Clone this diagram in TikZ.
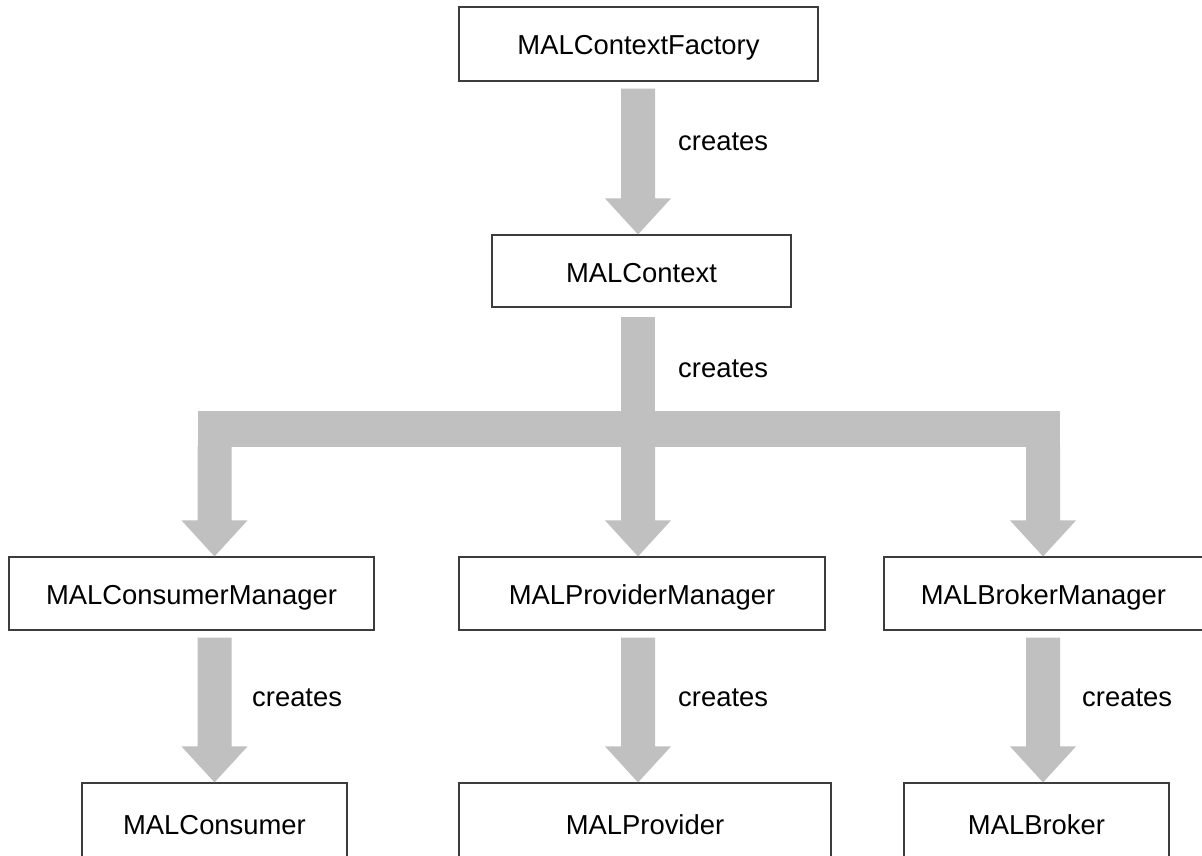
\documentclass[tikz,border=0pt]{standalone}
\usepackage{fontspec}
\setmainfont{Liberation Sans}
\usetikzlibrary{calc}
\definecolor{arrowgray}{RGB}{192,192,192}
\definecolor{boxline}{RGB}{60,60,60}
% block arrow: #1 = start of shaft (top), #2 = tip (bottom), same x
\newcommand\myblockarrow[2]{%
  \fill[arrowgray] ($(#1)+(-17,0)$) -- ($(#2)+(-17,36)$) -- ($(#2)+(-33,36)$) -- (#2)
    -- ($(#2)+(33,36)$) -- ($(#2)+(17,36)$) -- ($(#1)+(17,0)$) -- cycle;}
\begin{document}
\begin{tikzpicture}[x=1pt,y=1pt,
  box/.style={draw=boxline, line width=1.2pt, fill=white, inner sep=0pt,
    font=\fontsize{27.4}{32}\selectfont, text height=22pt, text depth=0pt},
  lbl/.style={anchor=west, inner sep=0pt,
    font=\fontsize{27.4}{32}\selectfont, text height=14.2pt, text depth=0pt}]
\clip (0,0) rectangle (1202,-856);
\fill[white] (0,0) rectangle (1202,-856);

% nodes
\node[box, minimum width=359pt, minimum height=74pt] (F) at (638.5,-44) {MALContextFactory};
\node[box, minimum width=299pt, minimum height=72pt] (C) at (641.5,-271) {MALContext};
\node[box, minimum width=365pt, minimum height=73pt] (CM) at (191.5,-593.5) {MALConsumerManager};
\node[box, minimum width=366pt, minimum height=73pt] (PM) at (642,-593.5) {MALProviderManager};
\node[box, minimum width=319pt, minimum height=73pt] (BM) at (1043.5,-593.5) {MALBrokerManager};
\node[box, minimum width=265pt, minimum height=80pt] (Cons) at (214.5,-823) {MALConsumer};
\node[box, minimum width=372pt, minimum height=80pt] (Prov) at (645,-823) {MALProvider};
\node[box, minimum width=265pt, minimum height=80pt] (Brok) at (1036.5,-823) {MALBroker};

% arrow axes
\coordinate (xm) at (638,0);
\coordinate (xl) at (214.5,0);
\coordinate (xr) at (1043,0);

% Factory -> Context
\coordinate (a1s) at ($(xm |- F.south)+(0,-7)$);
\coordinate (a1t) at (xm |- C.north);
\myblockarrow{a1s}{a1t}

% Context -> managers (branching)
\coordinate (stemtop) at ($(xm |- C.south)+(0,-9)$);
\coordinate (bartop) at (0,-411);
\coordinate (barbot) at (0,-447);
\fill[arrowgray] ($(stemtop)+(-17,0)$) rectangle ($(xm |- bartop)+(17,0)$);
\fill[arrowgray] ($(xl |- bartop)+(-17,0)$) rectangle ($(xr |- barbot)+(17,0)$);
\coordinate (b1s) at ($(xl |- barbot)+(0,1)$);
\coordinate (b1t) at (xl |- CM.north);
\myblockarrow{b1s}{b1t}
\coordinate (b2s) at ($(xm |- barbot)+(0,1)$);
\coordinate (b2t) at (xm |- PM.north);
\myblockarrow{b2s}{b2t}
\coordinate (b3s) at ($(xr |- barbot)+(0,1)$);
\coordinate (b3t) at (xr |- BM.north);
\myblockarrow{b3s}{b3t}

% managers -> objects
\coordinate (c1s) at ($(xl |- CM.south)+(0,-7)$);
\coordinate (c1t) at (xl |- Cons.north);
\myblockarrow{c1s}{c1t}
\coordinate (c2s) at ($(xm |- PM.south)+(0,-7)$);
\coordinate (c2t) at (xm |- Prov.north);
\myblockarrow{c2s}{c2t}
\coordinate (c3s) at ($(xr |- BM.south)+(0,-7)$);
\coordinate (c3t) at (xr |- Brok.north);
\myblockarrow{c3s}{c3t}

% labels
\node[lbl] (l1) at (678,-143) {creates};
\node[lbl] (l2) at (678,-370) {creates};
\node[lbl] (l3) at (252,-699) {creates};
\node[lbl] (l4) at (678,-699) {creates};
\node[lbl] (l5) at (1082,-699) {creates};
\end{tikzpicture}
\end{document}
